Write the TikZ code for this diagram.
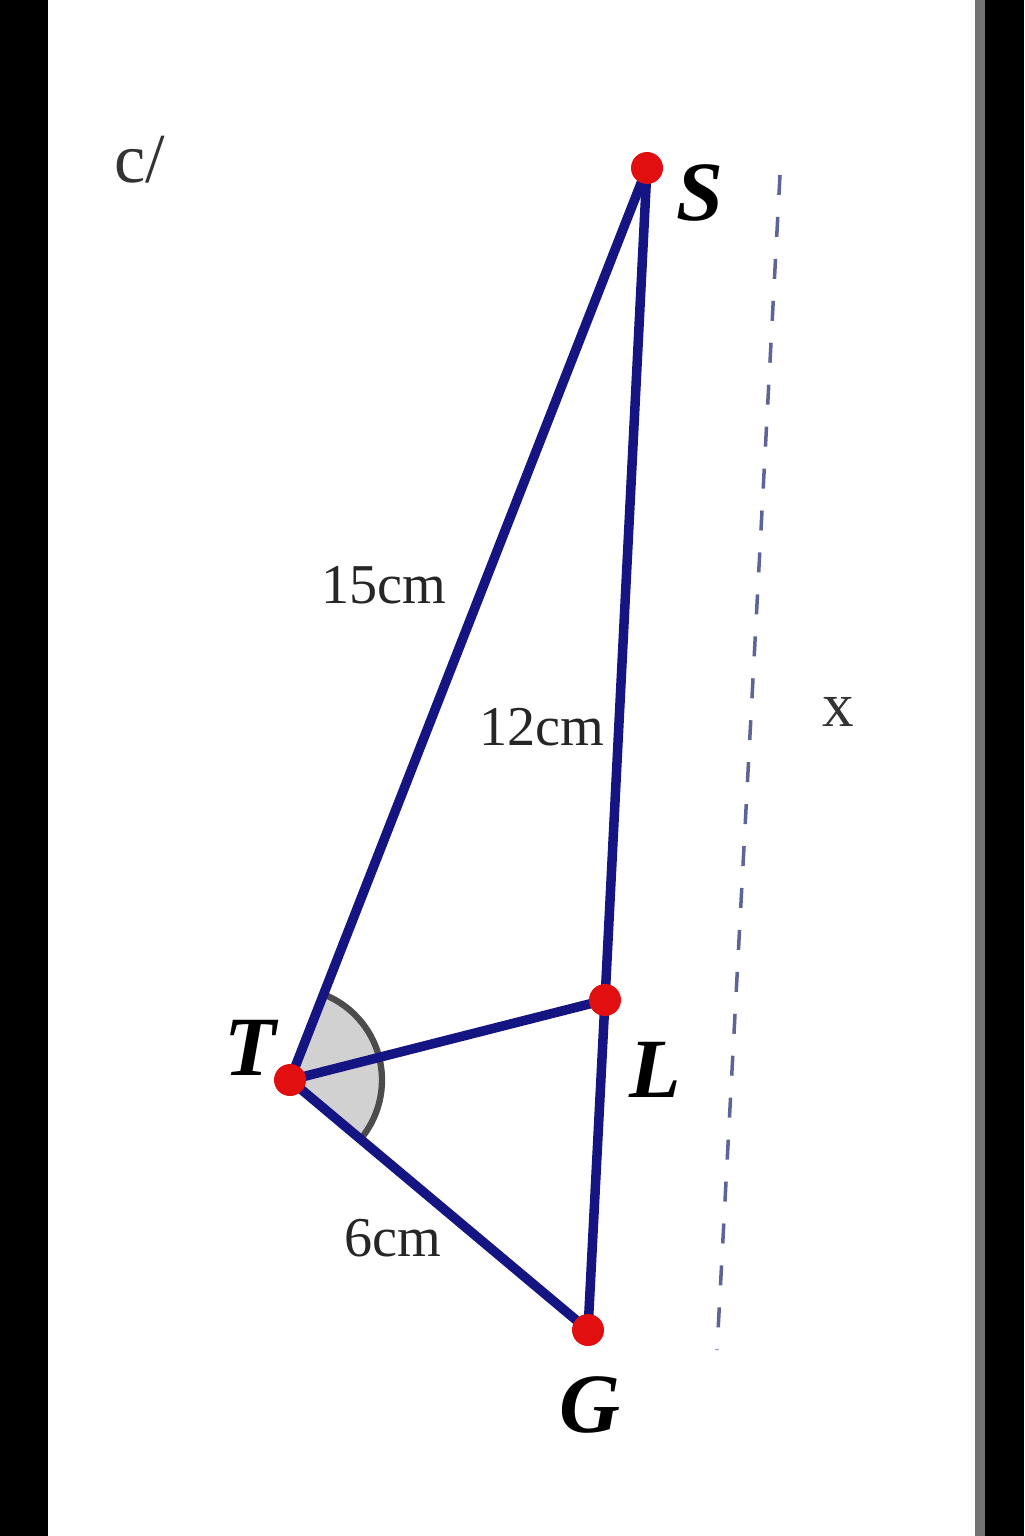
\documentclass[tikz,border=0pt]{standalone}
\usepackage{fontspec}
\setmainfont{Liberation Serif}
\usepackage{tikz}
\definecolor{segblue}{RGB}{20,20,130}
\definecolor{dotred}{RGB}{225,15,15}
\definecolor{dashgray}{RGB}{95,100,150}
\tikzset{
  seg/.style={segblue,line width=2.7pt,line cap=round},
  pt/.style={circle,fill=dotred,inner sep=0pt,minimum size=0.32cm},
  vlabel/.style={font=\fontsize{24}{28}\selectfont\bfseries\itshape},
  lenlabel/.style={font=\fontsize{16}{19}\selectfont,text=black!85},
}

\begin{document}
\begin{tikzpicture}
        \useasboundingbox (0,0) rectangle (10.24,-15.36);
        \fill[black] (0,0) rectangle (0.48,-15.36);
        \fill[black!55] (9.75,0) rectangle (9.85,-15.36);
        \fill[black] (9.85,0) rectangle (10.24,-15.36);
        \coordinate (S) at (6.47,-1.68);
        \coordinate (T) at (2.90,-10.80);
        \coordinate (L) at (6.05,-10.00);
        \coordinate (G) at (5.88,-13.30);
        \coordinate (xtop) at (7.80,-1.75);
        \coordinate (xbot) at (7.17,-13.50);
        % angle at T
        \filldraw[fill=black!18,draw=black!70,line width=1.8pt] (T) -- ++(68.6:0.92) arc (68.6:-40:0.92) -- cycle;
        \fill[black!18] (T) -- ++(68.6:0.88) arc (68.6:-40:0.88) -- cycle;
        \draw[seg] (T) -- (S);
        \draw[seg] (S) -- (L);
        \draw[seg] (L) -- (G);
        \draw[seg] (T) -- (L);
        \draw[seg] (T) -- (G);
        \draw[dashgray,line width=1pt,dash pattern=on 0.2cm off 0.22cm] (xtop) -- (xbot);
        \node[pt] (s) at (S) {};
        \node[pt] (t) at (T) {};
        \node[pt] (l) at (L) {};
        \node[pt] (g) at (G) {};
        \node[vlabel] (sl) at (7.00,-1.93) {S};
        \node[vlabel] (tl) at (2.50,-10.48) {T};
        \node[vlabel] (ll) at (6.55,-10.70) {L};
        \node[vlabel] (gl) at (5.90,-14.05) {G};
        \node[lenlabel] (a) at (3.84,-5.85) {15cm};
        \node[lenlabel] (b) at (5.42,-7.27) {12cm};
        \node[lenlabel] (c) at (3.93,-12.38) {6cm};
        \node[font=\fontsize{18}{21}\selectfont,text=black!80] (xl) at (8.38,-7.12) {x};
        \node[font=\fontsize{20}{24}\selectfont,text=black!80] (part) at (1.40,-1.60) {c/};
    \end{tikzpicture}
\end{document}
